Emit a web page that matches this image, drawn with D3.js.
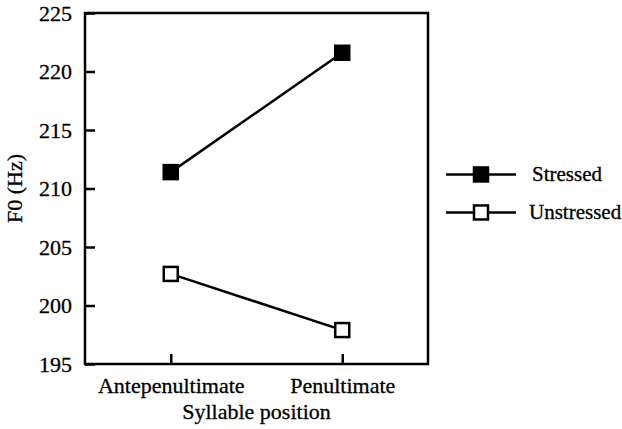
<!DOCTYPE html>
<html>
<head>
<meta charset="utf-8">
<script src="https://cdn.jsdelivr.net/npm/d3@7"></script>
<style>
  body { margin: 0; background: #fff; }
  text { font-family: 'Liberation Serif', 'Times New Roman', serif; fill: #000; stroke: #000; stroke-width: 0.3px; }
</style>
</head>
<body>
<div id="chart"></div>
<script>
const positions = ['Antepenultimate', 'Penultimate'];
const stressed = [211.4, 221.6];
const unstressed = [202.7, 197.9];
const yTicks = [195, 200, 205, 210, 215, 220, 225];
const seriesNames = ['Stressed', 'Unstressed'];

const margin = { top: 13, right: 194, bottom: 65, left: 85 };
const width = 622 - margin.left - margin.right;
const height = 429 - margin.top - margin.bottom;
const fontSize = 22;

const svg = d3
  .select('#chart')
  .append('svg')
  .attr('width', 622)
  .attr('height', 429)
  .append('g')
  .attr('transform', `translate(${margin.left},${margin.top})`);

// Scales
const x = d3.scalePoint().domain(positions).range([0, width]).padding(0.5);
const y = d3.scaleLinear().domain([195, 225]).range([height, 0]);

// Frame
svg
  .append('rect')
  .attr('width', width)
  .attr('height', height)
  .attr('fill', 'none')
  .attr('stroke', '#000')
  .attr('stroke-width', 2.5);

// Y axis (ticks pointing inward)
const yAxis = svg
  .append('g')
  .call(d3.axisRight(y).tickValues(yTicks).tickSize(10).tickFormat(d3.format('d')));
yAxis.select('.domain').remove();
yAxis.selectAll('line').attr('stroke-width', 2.5);
yAxis
  .selectAll('text')
  .attr('x', -13)
  .attr('dy', '0.33em')
  .attr('text-anchor', 'end')
  .attr('font-size', fontSize);

// X axis (ticks pointing up)
const xAxis = svg
  .append('g')
  .attr('transform', `translate(0,${height})`)
  .call(d3.axisTop(x).tickSize(10));
xAxis.select('.domain').remove();
xAxis.selectAll('line').attr('stroke-width', 2.5);
xAxis
  .selectAll('text')
  .attr('y', 29)
  .attr('dy', null)
  .attr('font-size', fontSize);

// Axis titles
svg
  .append('text')
  .attr('x', width / 2)
  .attr('y', height + 55)
  .attr('text-anchor', 'middle')
  .attr('font-size', fontSize)
  .text('Syllable position');

svg
  .append('text')
  .attr('transform', `translate(${-margin.left + 22},${y(210)}) rotate(-90)`)
  .attr('text-anchor', 'middle')
  .attr('font-size', fontSize)
  .text('F0 (Hz)');

// Lines and markers
const line = d3
  .line()
  .x((d, i) => x(positions[i]))
  .y((d) => y(d));

const series = [
  { name: seriesNames[0], values: stressed, fill: '#000' },
  { name: seriesNames[1], values: unstressed, fill: '#fff' },
];

series.forEach((s) => {
  svg
    .append('path')
    .datum(s.values)
    .attr('d', line)
    .attr('fill', 'none')
    .attr('stroke', '#000')
    .attr('stroke-width', 2.5);

  svg
    .selectAll(null)
    .data(s.values)
    .enter()
    .append('rect')
    .attr('x', (d, i) => x(positions[i]) - 7)
    .attr('y', (d) => y(d) - 7)
    .attr('width', 14)
    .attr('height', 14)
    .attr('fill', s.fill)
    .attr('stroke', '#000')
    .attr('stroke-width', 2.5);
});

// Legend
const legend = svg
  .append('g')
  .attr('transform', `translate(${width + 18},${y(211.2)})`);

const legendItems = legend
  .selectAll('g')
  .data(series)
  .enter()
  .append('g')
  .attr('transform', (d, i) => `translate(0,${i * 38})`);

legendItems
  .append('line')
  .attr('x1', 0)
  .attr('x2', 70)
  .attr('stroke', '#000')
  .attr('stroke-width', 2.5);

legendItems
  .append('rect')
  .attr('x', 28)
  .attr('y', -7)
  .attr('width', 14)
  .attr('height', 14)
  .attr('fill', (d) => d.fill)
  .attr('stroke', '#000')
  .attr('stroke-width', 2.5);

legendItems
  .append('text')
  .attr('x', (d, i) => (i === 0 ? 86 : 83))
  .attr('dy', '0.33em')
  .attr('font-size', 21)
  .text((d) => d.name);
</script>
</body>
</html>
